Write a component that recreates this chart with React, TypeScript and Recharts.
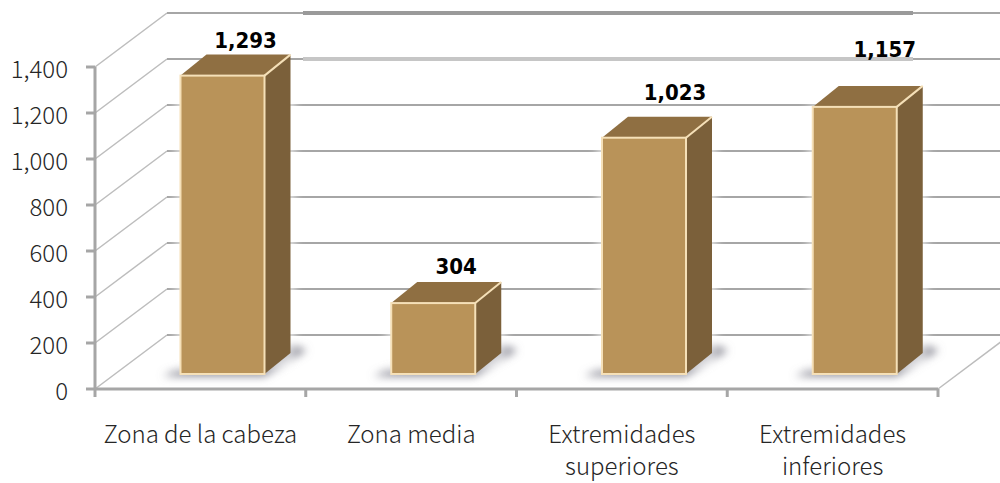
import { BarChart, Bar, XAxis, YAxis, CartesianGrid, LabelList } from "recharts";

const categories = ["Zona de la cabeza", "Zona media", "Extremidades superiores", "Extremidades inferiores"];
const casos = [1293, 304, 1023, 1157];
const yTicks = [0, 200, 400, 600, 800, 1000, 1200, 1400];

// saltos de línea del eje X
const tickLines: Record<string, string[]> = {
    "Extremidades superiores": ["Extremidades", "superiores"],
    "Extremidades inferiores": ["Extremidades", "inferiores"],
};
// ajuste manual de cada etiqueta sobre la barra
const labelLift = [36, 37, 46, 58];
const labelShift = [0, 0, 8, 7];

const data = categories.map((name, i) => ({ name, value: casos[i] }));

const FONT = '"Noto Sans CJK JP", "Noto Sans", sans-serif';
const GRID = "#a6a6a6";
const WALL_DX = 72;
const WALL_DY = -54;
const BAR_DX = 22.5;
const BAR_DY = -16;
const DEPTH_X = 26;
const DEPTH_Y = -21;
const HALF_SLOT = 843 / 8;

// línea de pared + diagonal del piso
const GridLine = (props: any) => {
    const { x1, x2, y1, index } = props;
    const wallY = y1 + WALL_DY;
    // las dos líneas de arriba salen más gruesas en el original
    const isTop = y1 < 120;
    const isFloor = y1 > 380;
    return (
        <g key={`grid-${index}-${y1}`}>
            <line x1={x1} y1={y1} x2={x1 + WALL_DX} y2={wallY} stroke={GRID} strokeWidth={1.5} opacity={0.75} />
            <line x1={x1 + WALL_DX} y1={wallY} x2={x2 + WALL_DX} y2={wallY} stroke={GRID} strokeWidth={2} />
            {isFloor && (
                <line x1={x2} y1={y1} x2={x2 + WALL_DX} y2={wallY} stroke={GRID} strokeWidth={1.5} opacity={0.75} />
            )}
            {isTop && (
                <line
                    x1={x1 + 208}
                    y1={wallY}
                    x2={x2 - 25}
                    y2={wallY}
                    stroke={y1 < 90 ? "#9a9a9a" : "#c6c6c6"}
                    strokeWidth={4}
                />
            )}
        </g>
    );
};

const Bar3D = (props: any) => {
    const { x, y, width, height } = props;
    const left = x + BAR_DX;
    const right = left + width;
    const top = y + BAR_DY;
    const bottom = y + height - 15;
    const edge = "#f5e0b8";
    return (
        <g>
            <polygon
                points={`${left - 18},${bottom + 2} ${right},${bottom + 2} ${right + DEPTH_X + 16},${bottom + DEPTH_Y - 3} ${right + DEPTH_X},${bottom + DEPTH_Y - 8} ${left},${bottom - 5}`}
                fill="#80808c"
                filter="url(#sombra)"
            />
            <rect x={left - 5} y={top - 3} width={width + DEPTH_X + 10} height={bottom - top} fill="#fff" opacity={0.6} filter="url(#halo)" />
            <polygon
                points={`${right},${top} ${right + DEPTH_X},${top + DEPTH_Y} ${right + DEPTH_X},${bottom + DEPTH_Y} ${right},${bottom}`}
                fill="#7b603a"
            />
            <polygon
                points={`${left},${top} ${left + DEPTH_X},${top + DEPTH_Y} ${right + DEPTH_X},${top + DEPTH_Y} ${right},${top}`}
                fill="#8f6f42"
            />
            <rect x={left} y={top} width={width} height={bottom - top} fill="#b99359" stroke={edge} strokeWidth={2} />
            <line x1={right} y1={top} x2={right + DEPTH_X} y2={top + DEPTH_Y} stroke={edge} strokeWidth={2} />
        </g>
    );
};

const CategoryTick = (props: any) => {
    const { x, y, payload, index } = props;
    const lines = tickLines[payload.value] ?? [payload.value];
    return (
        <g>
            <line x1={x - HALF_SLOT} y1={y - 8} x2={x - HALF_SLOT} y2={y} stroke={GRID} strokeWidth={3} />
            {index === categories.length - 1 && (
                <line x1={x + HALF_SLOT} y1={y - 8} x2={x + HALF_SLOT} y2={y} stroke={GRID} strokeWidth={3} />
            )}
            <text x={x} y={y + 46} textAnchor="middle" fontFamily={FONT} fontWeight={300} fontSize={24} fill="#262626">
                {lines.map((line, i) => (
                    <tspan key={line} x={x} dy={i === 0 ? 0 : 32}>{line}</tspan>
                ))}
            </text>
        </g>
    );
};

const ValueLabel = (props: any) => {
    const { x, y, width, value, index } = props;
    return (
        <text
            x={x + BAR_DX + width / 2 + 23 + labelShift[index]}
            y={y + BAR_DY - labelLift[index] + 8}
            textAnchor="middle"
            fontFamily='"DejaVu Sans Condensed", "DejaVu Sans", sans-serif'
            fontWeight={700}
            fontSize={22}
            fill="#000"
        >
            {value.toLocaleString("en-US")}
        </text>
    );
};

export default function App() {
    return (
        <div style={{ position: "absolute", left: 0, top: 0, width: 1000, height: 483, background: "#fff" }}>
            <BarChart width={1000} height={483} data={data} margin={{ top: 67, right: 62, bottom: 0, left: 0 }}>
                <defs>
                    <filter id="sombra" x="-30%" y="-100%" width="160%" height="300%">
                        <feGaussianBlur stdDeviation="4" />
                    </filter>
                    <filter id="halo" x="-20%" y="-20%" width="140%" height="140%">
                        <feGaussianBlur stdDeviation="4" />
                    </filter>
                </defs>
                <CartesianGrid vertical={false} horizontal={GridLine} />
                <XAxis
                    dataKey="name"
                    height={94}
                    interval={0}
                    axisLine={{ stroke: GRID, strokeWidth: 3 }}
                    tickLine={false}
                    tickMargin={0}
                    tickSize={8}
                    tick={CategoryTick}
                />
                <YAxis
                    width={95}
                    domain={[0, 1400]}
                    ticks={yTicks}
                    tickFormatter={(v: number) => v.toLocaleString("en-US")}
                    axisLine={{ stroke: GRID, strokeWidth: 3 }}
                    tickLine={{ stroke: GRID, strokeWidth: 3 }}
                    tickSize={9}
                    tickMargin={18}
                    tick={{ fontFamily: FONT, fontWeight: 300, fontSize: 24, fill: "#262626", dy: 2 }}
                />
                <Bar dataKey="value" barSize={84} shape={Bar3D} isAnimationActive={false}>
                    <LabelList dataKey="value" content={ValueLabel} />
                </Bar>
            </BarChart>
        </div>
    );
}
